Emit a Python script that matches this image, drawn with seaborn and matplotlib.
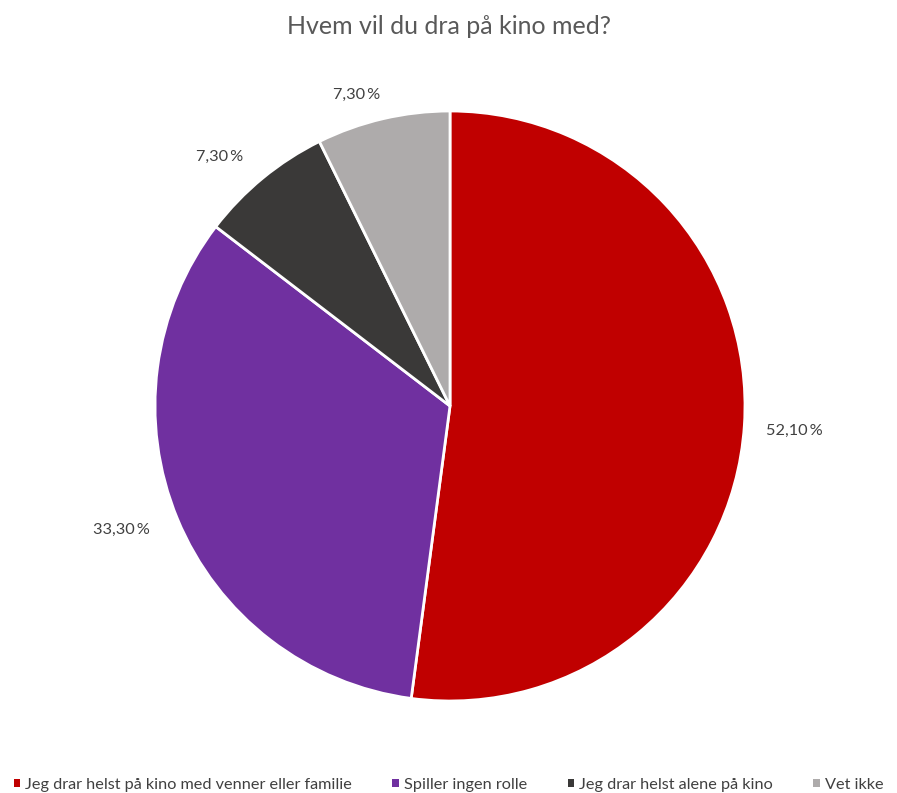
import matplotlib
matplotlib.use("Agg")
import numpy as np
import matplotlib.pyplot as plt
import seaborn as sns
from matplotlib.patches import Patch

categories = [
    "Jeg drar helst på kino med venner eller familie",
    "Spiller ingen rolle",
    "Jeg drar helst alene på kino",
    "Vet ikke",
]
values = [52.1, 33.3, 7.3, 7.3]
colors = sns.color_palette(["#C00000", "#7030A0", "#3A3938", "#AEABAB"])

sns.set_theme(style="white")
plt.rcParams["font.family"] = ["Lato", "DejaVu Sans"]

W, H = 897, 793
fig = plt.figure(figsize=(W / 100, H / 100), dpi=100)
fig.patch.set_facecolor("white")

cx, cy, r = 450, 406, 295
ax = fig.add_axes([(cx - r) / W, (H - cy - r) / H, 2 * r / W, 2 * r / H])

wedges, _ = ax.pie(
    values,
    colors=colors,
    startangle=90,
    counterclock=False,
    wedgeprops=dict(edgecolor="white", linewidth=2),
)

# percentage labels just outside each wedge (best-fit style nudges)
label_dist = [1.17, 1.19, 1.15, 1.10]
angle_nudge = [-0.3, -1.9, 3.3, 3.5]
for w, v, d, da in zip(wedges, values, label_dist, angle_nudge):
    mid = np.deg2rad((w.theta1 + w.theta2) / 2 + da)
    txt = f"{v:.2f}".replace(".", ",") + "\u2009%"
    ax.text(d * np.cos(mid), d * np.sin(mid), txt, ha="center", va="center",
            fontsize=11.7, color="#404040")

ax.set_xlim(-1, 1)
ax.set_ylim(-1, 1)
ax.set_aspect("equal")
ax.axis("off")

fig.text(0.5, 1 - 27 / H, "Hvem vil du dra på kino med?", ha="center", va="center",
         fontsize=18, color="#595959")

handles = [Patch(facecolor=c, edgecolor="none") for c in colors]
fig.legend(handles, categories, loc="center", bbox_to_anchor=(0.5, 1 - 785 / H),
           ncol=4, frameon=False, fontsize=11.7, labelcolor="#404040",
           handlelength=0.4, handleheight=0.4, handletextpad=0.3, columnspacing=2.5)

fig.savefig("out.png", dpi=100, facecolor="white")
